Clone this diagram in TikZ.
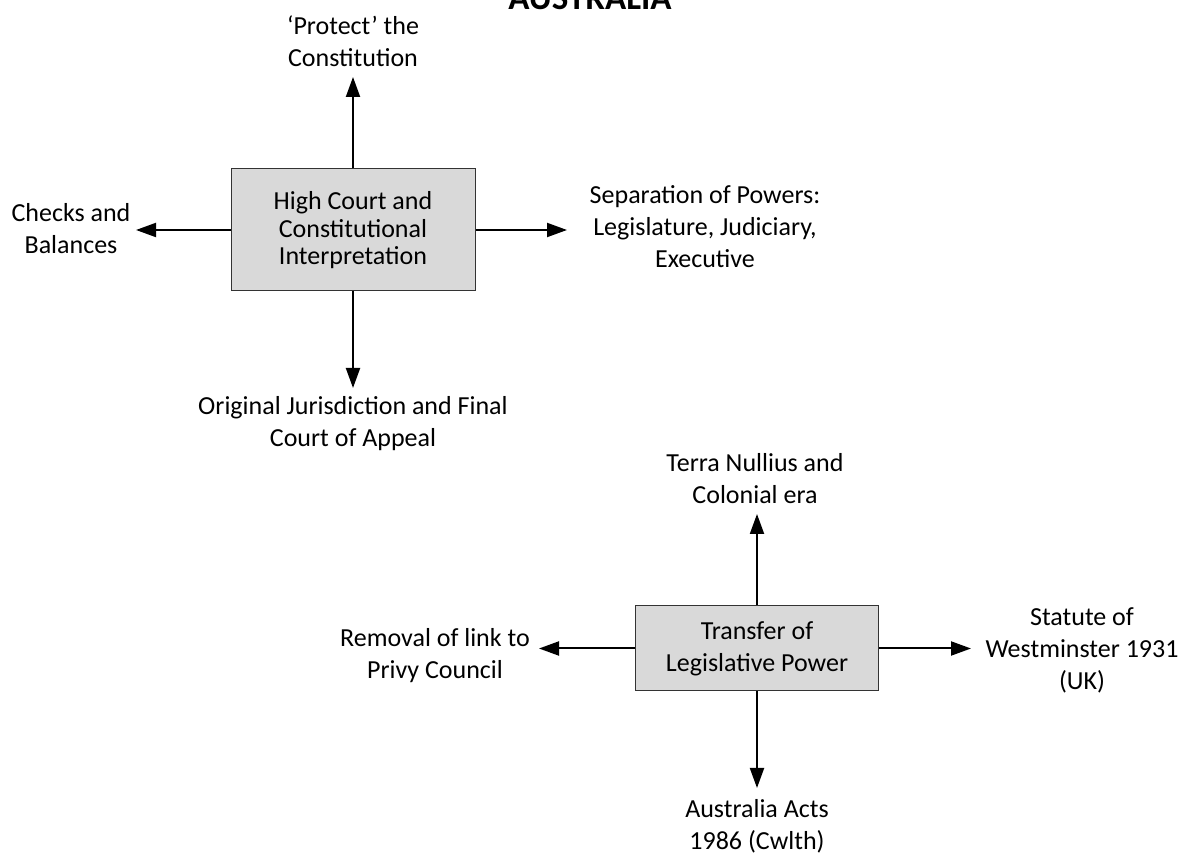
\documentclass[tikz,border=0pt]{standalone}
\usepackage{fontspec}
\setmainfont{Carlito}
\usetikzlibrary{arrows.meta}
\definecolor{boxgray}{HTML}{D9D9D9}
\begin{document}
\begin{tikzpicture}[x=0.5pt,y=-0.5pt,
		every node/.style={font=\fontsize{13}{16}\selectfont,align=center},
		topic/.style={draw=black!80,line width=0.5pt,fill=boxgray,inner sep=0pt},
		link/.style={-{Triangle[length=10pt,width=7pt]},line width=1pt}]
	\useasboundingbox (0,0) rectangle (1194,854);
	\node[font=\bfseries\fontsize{17.5}{20}\selectfont,anchor=base] (title) at (590,10) {AUSTRALIA};
	% High Court
	\node[topic,minimum width=122pt,minimum height=61pt,font=\fontsize{13}{13.75}\selectfont,text depth=2pt] (hc) at (353,230) {High Court and\\Constitutional\\Interpretation};
	\node (protect) at (353,41) {‘Protect’ the\\Constitution};
	\node (checks) at (71,229) {Checks and\\Balances};
	\node (sep) at (705,227) {Separation of Powers:\\Legislature, Judiciary,\\Executive};
	\node (orig) at (353,424) {Original Jurisdiction and Final\\Court of Appeal};
	\coordinate (hcN) at (353,77);
	\coordinate (hcW) at (136,230);
	\coordinate (hcE) at (567,230);
	\coordinate (hcS) at (353,388);
	\draw[link] (hc.north) -- (hcN);
	\draw[link] (hc.west) -- (hcW);
	\draw[link] (hc.east) -- (hcE);
	\draw[link] (hc.south) -- (hcS);
	% Transfer of power
	\node[topic,minimum width=121.5pt,minimum height=42.5pt] (tlp) at (757,648.5) {Transfer of\\Legislative Power};
	\node (terra) at (755,479) {Terra Nullius and\\Colonial era};
	\node (privy) at (435,656) {Removal of link to\\Privy Council};
	\node (statute) at (1082,650) {Statute of\\Westminster 1931\\(UK)};
	\node (acts) at (757,826) {Australia Acts\\1986 (Cwlth)};
	\coordinate (tlpN) at (757,514);
	\coordinate (tlpW) at (539,648.5);
	\coordinate (tlpE) at (971,648.5);
	\coordinate (tlpS) at (757,788);
	\draw[link] (tlp.north) -- (tlpN);
	\draw[link] (tlp.west) -- (tlpW);
	\draw[link] (tlp.east) -- (tlpE);
	\draw[link] (tlp.south) -- (tlpS);
\end{tikzpicture}
\end{document}
